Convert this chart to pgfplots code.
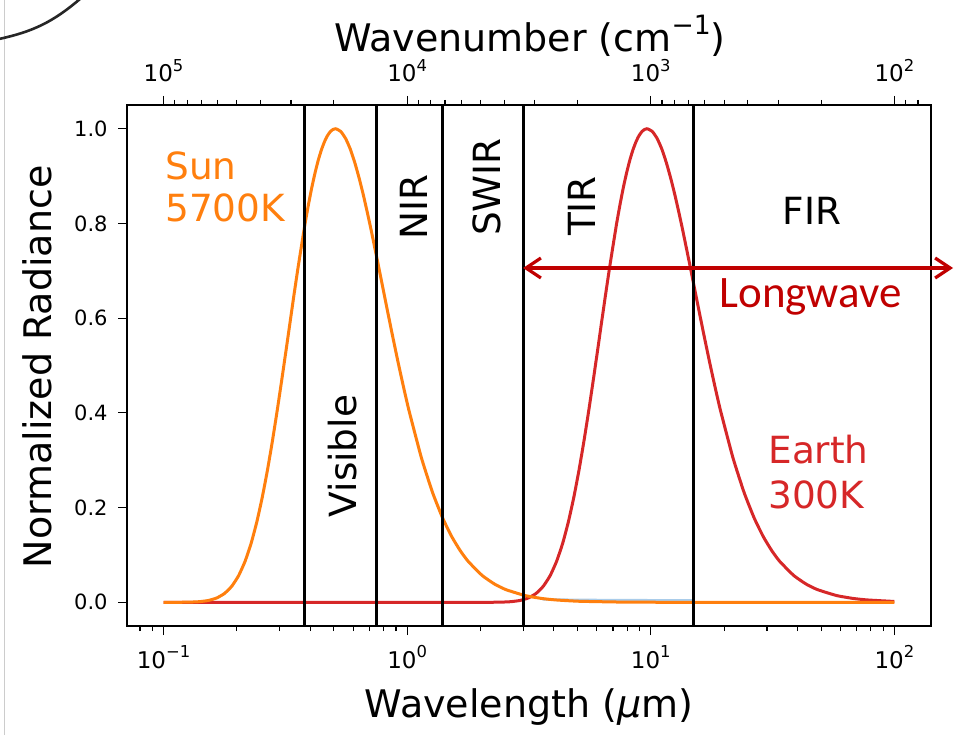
\documentclass[border=0pt]{standalone}
\usepackage{pgfplots}
\pgfplotsset{compat=1.18}
\usepackage{fontspec}
\setmainfont{DejaVu Sans}
\newfontfamily\calibri{Carlito}
\usetikzlibrary{arrows.meta}
\definecolor{sunc}{HTML}{FF7F0E}
\definecolor{earthc}{HTML}{D62728}
\definecolor{lwc}{HTML}{C00000}
\definecolor{bluec}{HTML}{A9CCEA}
\newcommand\tl[1]{10\raisebox{0.45em}{\fontsize{8.2}{8}\selectfont #1}}
\begin{document}
\begin{tikzpicture}
\useasboundingbox (-63.5pt,-54.5pt) rectangle (416.5pt,313pt);
% decoration of the reference (screenshot edge and arc)
\draw[gray!40, line width=0.5pt] (-61pt,-54.5pt) -- (-61pt,313pt);
\draw[black!85, line width=1.3pt] (-64pt,293.5pt) to[bend right=14] (-23.5pt,313.5pt);

\begin{axis}[
  at={(0pt,0pt)}, anchor=south west,
  scale only axis, width=402pt, height=260.5pt,
  xmode=log, xmin=0.0708, xmax=141.25, ymin=-0.05, ymax=1.05,
  xtick={0.1,1,10,100},
  xticklabels={\tl{−1},\tl{0},\tl{1},\tl{2}},
  minor xtick={0.08,0.09,0.2,0.3,0.4,0.5,0.6,0.7,0.8,0.9,2,3,4,5,6,7,8,9,20,30,40,50,60,70,80,90},
  ytick={0,0.2,0.4,0.6,0.8,1.0},
  yticklabels={0.0,0.2,0.4,0.6,0.8,1.0},
  xtick pos=bottom, ytick pos=left, tick align=outside,
  major tick length=4.5pt, minor tick length=2.6pt,
  every tick/.style={black, line width=0.6pt},
  axis line style={black, line width=0.8pt},
  xticklabel style={font=\fontsize{11.5}{12}\selectfont, anchor=base, yshift=-16.5pt},
  yticklabel style={font=\fontsize{10.5}{12}\selectfont, anchor=east, inner sep=0pt, xshift=-5pt},
  clip=true,
]
% Earth 300 K (normalized Planck radiance)
\addplot[earthc, line width=1.5pt, line join=round, smooth, tension=0.3] coordinates {
(0.1,0) (1.0,0) (1.932,0.0000073) (2.173,0.000064) (2.415,0.000345) (2.656,0.0013)
(2.898,0.0038) (3.139,0.0091) (3.381,0.0187) (3.622,0.0341) (3.864,0.0565)
(4.105,0.0866) (4.347,0.1245) (4.588,0.1699) (4.830,0.2217) (5.071,0.2787)
(5.312,0.3395) (5.554,0.4026) (5.795,0.4663) (6.037,0.5295) (6.278,0.5908)
(6.520,0.6495) (6.761,0.7041) (7.003,0.7538) (7.244,0.8006) (7.486,0.8415)
(7.727,0.8775) (7.969,0.9084) (8.210,0.9345) (8.452,0.9557) (8.693,0.9723)
(8.935,0.9849) (9.176,0.9934) (9.418,0.9983) (9.659,1.0) (10.142,0.9942)
(10.625,0.9790) (11.108,0.9564) (11.591,0.9276) (12.074,0.8950) (12.557,0.8599)
(13.040,0.8229) (13.523,0.7853) (14.489,0.7101) (15.454,0.6380) (16.420,0.5709)
(17.386,0.5097) (18.352,0.4546) (19.318,0.4053) (21.733,0.3052) (24.148,0.2318)
(26.562,0.1780) (28.977,0.1383) (31.392,0.1088) (33.807,0.0865) (38.636,0.0565)
(43.466,0.0383) (48.295,0.0268) (57.954,0.01421) (67.613,0.0082) (77.272,0.00505)
(96.59,0.00221) (100,0.0020)
};
\addplot[bluec, line width=1.2pt] coordinates {(3.6,0.006) (6.0,0.005) (15,0.004)};
% Sun 5700 K (normalized Planck radiance)
\addplot[sunc, line width=1.5pt, line join=round, smooth, tension=0.3] coordinates {
(0.1,0) (0.1017,0.0000073) (0.1144,0.000064) (0.1271,0.000345) (0.1398,0.0013)
(0.1525,0.0038) (0.1652,0.0091) (0.1779,0.0187) (0.1907,0.0341) (0.2034,0.0565)
(0.2161,0.0866) (0.2288,0.1245) (0.2415,0.1699) (0.2542,0.2217) (0.2669,0.2787)
(0.2796,0.3395) (0.2923,0.4026) (0.3050,0.4663) (0.3178,0.5295) (0.3305,0.5908)
(0.3432,0.6495) (0.3559,0.7041) (0.3686,0.7538) (0.3813,0.8006) (0.3940,0.8415)
(0.4067,0.8775) (0.4194,0.9084) (0.4321,0.9345) (0.4449,0.9557) (0.4576,0.9723)
(0.4703,0.9849) (0.4830,0.9934) (0.4957,0.9983) (0.5084,1.0) (0.5338,0.9942)
(0.5592,0.9790) (0.5847,0.9564) (0.6101,0.9276) (0.6355,0.8950) (0.6609,0.8599)
(0.6863,0.8229) (0.7118,0.7853) (0.7626,0.7101) (0.8134,0.6380) (0.8643,0.5709)
(0.9151,0.5097) (0.9660,0.4546) (1.0168,0.4053) (1.1439,0.3052) (1.2710,0.2318)
(1.3981,0.1780) (1.5252,0.1383) (1.6523,0.1088) (1.7794,0.0865) (2.0336,0.0565)
(2.2878,0.0383) (2.542,0.0268) (3.050,0.01421) (3.559,0.0082) (4.067,0.00505)
(5.084,0.00221) (7.626,0.00048) (10.168,0.00016) (20.34,0.00001) (50,0) (100,0)
};
% band boundaries
\addplot[black, line width=1.5pt] coordinates {(0.38,-0.05) (0.38,1.05)};
\addplot[black, line width=1.5pt] coordinates {(0.75,-0.05) (0.75,1.05)};
\addplot[black, line width=1.5pt] coordinates {(1.4,-0.05) (1.4,1.05)};
\addplot[black, line width=1.5pt] coordinates {(3,-0.05) (3,1.05)};
\addplot[black, line width=1.5pt] coordinates {(15,-0.05) (15,1.05)};
\end{axis}

\begin{axis}[
  at={(0pt,0pt)}, anchor=south west,
  scale only axis, width=402pt, height=260.5pt,
  xmode=log, x dir=reverse, xmin=70.8, xmax=141250, ymin=0, ymax=1,
  axis x line*=top, axis y line=none,
  xtick={100,1000,10000,100000},
  xticklabels={\tl{2},\tl{3},\tl{4},\tl{5}},
  minor xtick={80,90,200,300,400,500,600,700,800,900,2000,3000,4000,5000,6000,7000,8000,9000,20000,30000,40000,50000,60000,70000,80000,90000},
  tick align=outside,
  major tick length=4.5pt, minor tick length=2.6pt,
  every tick/.style={black, line width=0.6pt},
  axis line style={black, line width=0.8pt},
  xticklabel style={font=\fontsize{11.5}{12}\selectfont, anchor=base, yshift=7pt},
]
\addplot[draw=none] coordinates {(1000,0.5)};
\end{axis}

% axis labels
\node[anchor=base, inner sep=0pt, font=\fontsize{19}{22}\selectfont] at (201pt,-45.5pt) {Wavelength ({\itshape μ}m)};
\node[anchor=base, inner sep=0pt, font=\fontsize{19}{22}\selectfont] at (201.5pt,287pt) {Wavenumber (cm\raisebox{0.45em}{\fontsize{13.3}{14}\selectfont −1})};
\node[anchor=base, rotate=90, inner sep=0pt, font=\fontsize{19}{22}\selectfont] at (-37.5pt,129.5pt) {Normalized Radiance};

% band labels
\begin{scope}[every node/.style={inner sep=0pt, font=\fontsize{18.7}{22}\selectfont}]
\node[anchor=base, rotate=90] at (114.5pt,85pt) {Visible};
\node[anchor=base, rotate=90] at (150pt,209.5pt) {NIR};
\node[anchor=base, rotate=90] at (186.5pt,219.5pt) {SWIR};
\node[anchor=base, rotate=90] at (234pt,210pt) {TIR};
\node[anchor=base] at (342.5pt,200.5pt) {FIR};
\node[anchor=base west, text=sunc] at (19pt,223pt) {Sun};
\node[anchor=base west, text=sunc] at (19pt,202pt) {5700K};
\node[anchor=base west, text=earthc] at (320.5pt,81.5pt) {Earth};
\node[anchor=base west, text=earthc] at (320.5pt,59pt) {300K};
\end{scope}

% longwave arrow
\draw[lwc, line width=1.6pt, {Straight Barb[length=7.5pt,width=10pt]}-{Straight Barb[length=7.5pt,width=10pt]}] (198pt,179pt) -- (413pt,179pt);
\node[anchor=base west, inner sep=0pt, text=lwc, font=\calibri\fontsize{22.5}{26}\selectfont] at (296pt,159.5pt) {Longwave};
\end{tikzpicture}
\end{document}
